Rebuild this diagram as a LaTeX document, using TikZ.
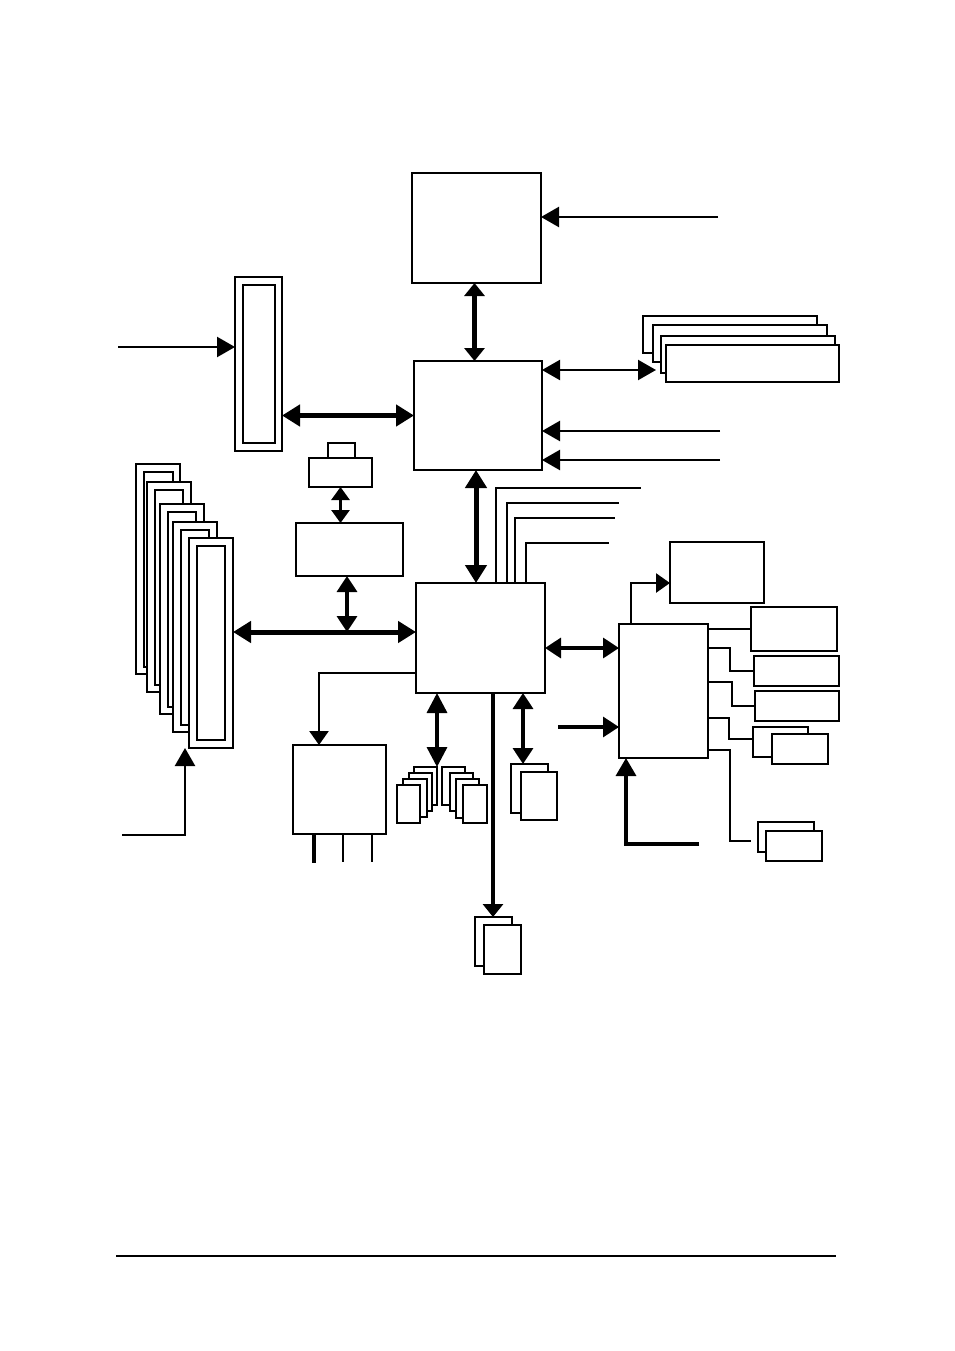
\documentclass[tikz,border=0pt]{standalone}
\usetikzlibrary{arrows.meta}
\tikzset{
  box/.style={draw, fill=white, line width=2.2pt, inner sep=0pt, outer sep=0pt},
  tbox/.style={box, line width=1.4pt},
  ibox/.style={box, line width=1.8pt},
  wire/.style={line width=2.2pt},
  bus/.style={line width=5pt, {Triangle[length=18pt,width=21pt]}-{Triangle[length=18pt,width=21pt]}},
  mbus/.style={line width=3.4pt, {Triangle[length=16pt,width=20pt]}-{Triangle[length=16pt,width=20pt]}},
  sbus/.style={line width=2.8pt, {Triangle[length=13pt,width=18pt]}-{Triangle[length=13pt,width=18pt]}},
  tbus/.style={line width=2.2pt, {Triangle[length=18pt,width=20pt]}-{Triangle[length=18pt,width=20pt]}},
  arr/.style={line width=2.4pt, -{Triangle[length=18pt,width=20pt]}},
  sarr/.style={line width=2.6pt, -{Triangle[length=14pt,width=19pt]}}
}
\newcommand\bx[6][box]{\node[#1, minimum width={(#5-#3)*1pt}, minimum height={(#6-#4)*1pt}] (#2) at ({(#3+#5)/2},{(#4+#6)/2}) {};}
\begin{document}
\begin{tikzpicture}[x=1pt,y=-1pt]
\useasboundingbox[fill=white] (0,0) rectangle (954,1351);

% helper coordinates
\coordinate (cpuin) at (718,217);
\coordinate (nbin1) at (720,431);
\coordinate (nbin2) at (720,460);
\coordinate (memrow) at (0,370);
\coordinate (agpin) at (118,347);
\coordinate (pcij) at (347,632);
\coordinate (nbsb) at (476,0);
\coordinate (slotin) at (122,835);
\coordinate (x185) at (185,0);
\coordinate (y673) at (0,673);
\coordinate (x319) at (319,0);
\coordinate (x437) at (437,0);
\coordinate (x523) at (523,0);
\coordinate (x493) at (493,0);
\coordinate (y648) at (0,648);
\coordinate (sioin) at (558,727);
\coordinate (siobot) at (699,844);
\coordinate (x626) at (626,0);
\coordinate (x631) at (631,0);
\coordinate (t1) at (641,488);
\coordinate (t2) at (619,503);
\coordinate (t3) at (615,518);
\coordinate (t4) at (609,543);
\coordinate (x496) at (496,0);
\coordinate (x507) at (507,0);
\coordinate (x515) at (515,0);
\coordinate (x526) at (526,0);
\coordinate (fl) at (116,1256);
\coordinate (fr) at (836,1256);

% main chips
\bx{cpu}{412}{173}{541}{283}
\bx{nb}{414}{361}{542}{470}
\bx{sb}{416}{583}{545}{693}

% memory slots
\bx[tbox]{m1}{643}{316}{817}{353}
\bx[tbox]{m2}{653}{325}{827}{362}
\bx[tbox]{m3}{661}{336}{835}{373}
\bx[tbox]{m4}{666}{345}{839}{382}

% AGP slot
\bx[tbox]{agp}{235}{277}{282}{451}
\bx[ibox]{agpi}{243}{285}{275}{443}

% small bridge boxes
\bx[tbox]{tab}{328}{443}{355}{458}
\bx[tbox]{sm}{309}{458}{372}{487}
\bx[tbox]{br}{296}{523}{403}{576}

% PCI slots
\bx[tbox]{s1}{136}{464}{180}{674}
\bx[ibox]{s1i}{144}{472}{173}{667}
\bx[tbox]{s2}{147}{482}{191}{692}
\bx[ibox]{s2i}{155}{490}{183}{685}
\bx[tbox]{s3}{160}{504}{204}{714}
\bx[ibox]{s3i}{168}{512}{196}{707}
\bx[tbox]{s4}{173}{522}{217}{732}
\bx[ibox]{s4i}{181}{530}{209}{725}
\bx[tbox]{s5}{189}{538}{233}{748}
\bx[ibox]{s5i}{197}{546}{225}{740}

% left bottom box
\bx[tbox]{lbox}{293}{745}{386}{834}

% IDE groups
\bx[tbox]{ia1}{414}{767}{437}{805}
\bx[tbox]{ia2}{409}{773}{432}{811}
\bx[tbox]{ia3}{403}{779}{427}{817}
\bx[ibox]{ia4}{397}{785}{420}{823}
\bx[tbox]{ib1}{442}{767}{465}{805}
\bx[tbox]{ib2}{450}{773}{473}{811}
\bx[tbox]{ib3}{456}{779}{479}{818}
\bx[tbox]{ib4}{463}{785}{487}{823}

% USB pair
\bx[tbox]{u1}{511}{764}{548}{813}
\bx[tbox]{u2}{521}{772}{557}{820}

% bottom pair
\bx[tbox]{b1}{475}{917}{512}{966}
\bx[tbox]{b2}{484}{925}{521}{974}

% right side
\bx[tbox]{sio}{619}{624}{708}{758}
\bx[tbox]{fdd}{670}{542}{764}{603}
\bx[ibox]{ba}{751}{607}{837}{651}
\bx[ibox]{bb}{754}{656}{839}{686}
\bx[tbox]{bc}{755}{691}{839}{721}
\bx[tbox]{d1}{753}{727}{808}{757}
\bx[tbox]{d2}{772}{734}{828}{764}
\bx[tbox]{e1}{758}{822}{814}{852}
\bx[ibox]{e2}{766}{831}{822}{861}

% connectors top
\draw[arr] (cpuin) -- (cpuin -| cpu.east);
\draw[bus, {Triangle[length=13pt,width=20pt]}-{Triangle[length=13pt,width=20pt]}] ([xshift=-2pt]cpu.south) -- ([xshift=-2pt]cpu.south |- nb.north);
\draw[tbus] (nb.east |- memrow) -- ([xshift=3pt]m2.west |- memrow);
\draw[arr] (nbin1) -- (nbin1 -| nb.east);
\draw[arr] (nbin2) -- (nbin2 -| nb.east);
\draw[arr] (agpin) -- (agpin -| agp.west);
\draw[bus] (nb.west -| agp.east) -- (nb.west);
\draw[bus] (nbsb |- nb.south) -- (nbsb |- sb.north);

% SB top wires
\draw[wire] (x496 |- sb.north) |- (t1);
\draw[wire] (x507 |- sb.north) |- (t2);
\draw[line width=2.8pt] (x515 |- sb.north) |- (t3);
\draw[wire] (x526 |- sb.north) |- (t4);

% PCI / bridge
\draw[sbus] (sm.south) -- (sm.south |- br.north);
\draw[mbus] (pcij |- br.south) -- (pcij);
\draw[bus] (s5.east |- pcij) -- (sb.west |- pcij);
\draw[arr] (slotin) -| (x185 |- s5.south);

% SB bottom
\draw[sarr] (sb.west |- y673) -| (x319 |- lbox.north);
\draw[line width=3.2pt] (314,834) -- (314,863);
\draw[wire] (343,834) -- (343,862);
\draw[wire] (372,834) -- (372,862);
\draw[mbus, {Triangle[length=20pt,width=20pt]}-{Triangle[length=20pt,width=20pt]}] (x437 |- sb.south) -- (x437 |- ia1.north);
\draw[mbus] (x523 |- sb.south) -- (x523 |- u1.north);
\draw[line width=3.2pt, -{Triangle[length=13pt,width=20pt]}] (x493 |- sb.south) -- (x493 |- b1.north);

% SIO
\draw[mbus] (sb.east |- y648) -- (sio.west |- y648);
\draw[line width=3.2pt, -{Triangle[length=16pt,width=20pt]}] (sioin) -- (sioin -| sio.west);
\draw[line width=3.4pt, -{Triangle[length=18pt,width=20pt]}] (siobot) -| (x626 |- sio.south);
\draw[sarr] (x631 |- sio.north) |- (fdd.west |- 0,583);
\draw[line width=2.6pt] (sio.east |- ba.west) -- (ba.west);
\draw[line width=2.6pt] (sio.east |- 0,648) -| (730,671) -- (bb.west);
\draw[line width=2.6pt] (sio.east |- 0,682) -| (732,706) -- (bc.west);
\draw[line width=2.6pt] (sio.east |- 0,718) -| (729,739) -- (d1.west |- 0,739);
\draw[line width=2.6pt] (sio.east |- 0,750) -| (730,841) -- (751,841);

% footer rule
\draw[line width=2.2pt] (fl) -- (fr);
\end{tikzpicture}
\end{document}
